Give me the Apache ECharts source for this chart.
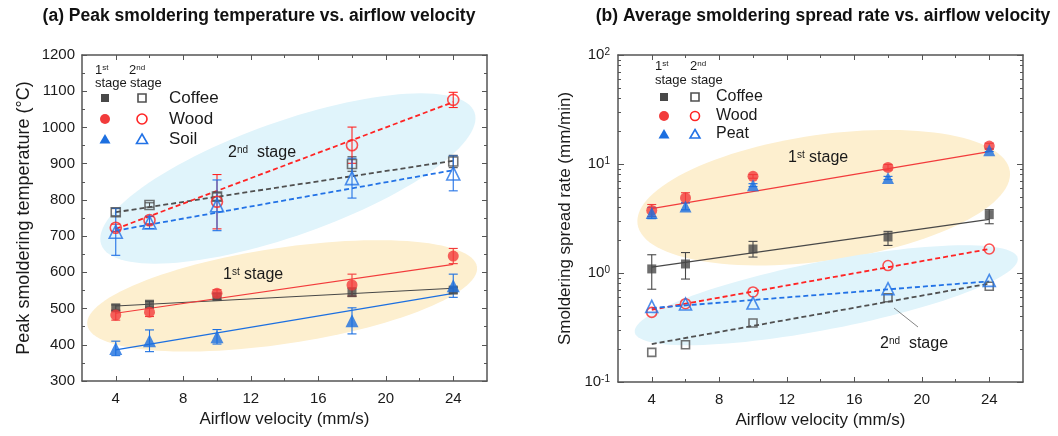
<!DOCTYPE html>
<html>
<head>
<meta charset="utf-8">
<script src="https://cdn.jsdelivr.net/npm/echarts@6/dist/echarts.min.js"></script>
<style>html,body{margin:0;padding:0;background:#fff;}#c{width:1058px;height:436px;}</style>
</head>
<body>
<div id="c"></div>
<script>
// ---------- data ----------
const airflow = [4, 6, 10, 18, 24];
const fitX = [4, 24];
const xMajorTicks = [4, 8, 12, 16, 20, 24];
const xMinorTicks = [6, 10, 14, 18, 22];
const logMinorTicks = [0.2,0.3,0.4,0.5,0.6,0.7,0.8,0.9,2,3,4,5,6,7,8,9,20,30,40,50,60,70,80,90];

// (a) peak temperature (°C)
const coffee1T = [502, 512, 533, 545, 551];
const coffee1TErr = [8, 8, 8, 12, 8];
const wood1T = [482, 490, 542, 565, 645];
const wood1TErr = [14, 12, 10, 30, 21];
const soil1T = [390, 411, 422, 466, 563];
const soil1TErr = [20, 30, 20, 36, 32];
const coffee2T = [766, 786, 809, 899, 906];
const coffee2TErr = [10, 6, 10, 20, 17];
const wood2T = [723, 744, 795, 951, 1076];
const wood2TErr = [10, 10, 75, 50, 21];
const soil2T = [712, 738, 785, 860, 873];
const soil2TErr = [65, 17, 70, 55, 48];
const coffee1TFit = [507, 556];
const wood1TFit = [487, 622];
const soil1TFit = [386, 542];
const coffee2TFit = [766, 908];
const wood2TFit = [720, 1070];
const soil2TFit = [715, 882];

// (b) spread rate (mm/min)
const coffee1R = [1.09, 1.21, 1.66, 2.14, 3.43];
const coffee1RLo = [0.71, 0.88, 1.40, 1.79, 2.83];
const coffee1RHi = [1.47, 1.54, 1.95, 2.41, 3.81];
const wood1R = [3.75, 4.88, 7.7, 9.3, 14.6];
const wood1RLo = [3.3, 4.4, 7.4, 8.8, 13.6];
const wood1RHi = [4.25, 5.45, 8.0, 9.9, 15.5];
const peat1R = [3.55, 4.08, 6.37, 7.44, 13.4];
const peat1RLo = [3.15, 3.8, 6.2, 7.2, 13.0];
const peat1RHi = [4.0, 4.4, 6.6, 7.7, 13.9];
const coffee2R = [0.187, 0.22, 0.348, 0.593, 0.755];
const wood2R = [0.435, 0.523, 0.67, 1.17, 1.66];
const peat2R = [0.494, 0.52, 0.53, 0.718, 0.855];
const coffee1RFit = [1.13, 3.1];
const wood1RFit = [3.9, 13.0];
const coffee2RFit = [0.223, 0.8];
const wood2RFit = [0.46, 1.66];
const peat2RFit = [0.477, 0.838];

// highlight ellipses (centre in data units)
const ellipseCentersA = [[14.2, 859], [13.86, 535]];
const ellipseCentersB = [[14.19, 4.91], [14.34, 0.625]];

// ---------- styling ----------
const FONT = 'Liberation Sans, Arial, sans-serif';
const GRAY = '#484848', RED = '#f23b3b', BLUE = '#1c6fe0';
const RED2 = '#ff2424', BLUE2 = '#2272e6', GRAY2 = '#505050';
const AX = '#555';
const ellipseStyle = [
  {a: 198, b: 57, angle: 19.5, color: '#e0f4fb'},
  {a: 197, b: 48, angle: 8.5, color: '#fdefcf'},
  {a: 188, b: 63, angle: 8.1, color: '#fdefcf'},
  {a: 195, b: 34, angle: 11, color: '#e0f4fb'}
];

const pairs = (xs, ys) => xs.map((x, i) => [x, ys[i]]);

function ellipseSeries(grid, center, st) {
  return {
    type: 'custom', xAxisIndex: grid * 4, yAxisIndex: grid * 4, z: 1, silent: true,
    data: [center],
    renderItem: function (params, api) {
      const c = api.coord([api.value(0), api.value(1)]);
      const th = st.angle * Math.PI / 180;
      const pts = [];
      for (let k = 0; k < 120; k++) {
        const t = k / 120 * Math.PI * 2;
        pts.push([c[0] + st.a * Math.cos(t) * Math.cos(th) + st.b * Math.sin(t) * Math.sin(th),
                  c[1] - st.a * Math.cos(t) * Math.sin(th) + st.b * Math.sin(t) * Math.cos(th)]);
      }
      return {type: 'polygon', shape: {points: pts}, style: {fill: st.color}};
    }
  };
}

function errSeries(grid, data, color) {
  return {
    type: 'custom', xAxisIndex: grid * 4, yAxisIndex: grid * 4, z: 3, silent: true,
    data: data,
    renderItem: function (params, api) {
      const x = api.value(0);
      const p1 = api.coord([x, api.value(2)]);
      const p2 = api.coord([x, api.value(1)]);
      const w = 4.5;
      const st = {stroke: color, lineWidth: 1.1};
      return {type: 'group', children: [
        {type: 'line', shape: {x1: p1[0], y1: p1[1], x2: p2[0], y2: p2[1]}, style: st},
        {type: 'line', shape: {x1: p1[0] - w, y1: p1[1], x2: p1[0] + w, y2: p1[1]}, style: st},
        {type: 'line', shape: {x1: p2[0] - w, y1: p2[1], x2: p2[0] + w, y2: p2[1]}, style: st}
      ]};
    }
  };
}
const errPM = (ys, es) => airflow.map((x, i) => [x, ys[i] - es[i], ys[i] + es[i]]);
const errLH = (lo, hi) => airflow.map((x, i) => [x, lo[i], hi[i]]);

function scat(grid, ys, symbol, size, color, filled) {
  return {
    type: 'scatter', xAxisIndex: grid * 4, yAxisIndex: grid * 4, z: 4, silent: true,
    symbol: symbol, symbolSize: size, data: pairs(airflow, ys),
    itemStyle: filled ? {color: color} : {color: 'rgba(255,255,255,0)', borderColor: color, borderWidth: 1.6}
  };
}
function fit(grid, ys, color, dashed) {
  return {
    type: 'line', xAxisIndex: grid * 4, yAxisIndex: grid * 4, z: 2, silent: true,
    symbol: 'none', data: pairs(fitX, ys),
    lineStyle: dashed ? {color: color, width: 1.8, type: [5, 3]} : {color: color, width: 1.2}
  };
}

function xAxes(grid) {
  const base = {type: 'value', gridIndex: grid, min: 2, max: 26, interval: 2, splitLine: {show: false}};
  return [
    Object.assign({}, base, {
      position: 'bottom',
      axisLine: {show: true, lineStyle: {color: AX, width: 1.5}},
      axisTick: {show: true, inside: true, length: 5, customValues: xMajorTicks, lineStyle: {color: AX}},
      axisLabel: {customValues: xMajorTicks, fontSize: 15, color: '#1a1a1a', margin: 10, fontFamily: FONT},
      name: 'Airflow velocity (mm/s)', nameLocation: 'middle', nameGap: 28,
      nameTextStyle: {fontSize: 17, color: '#1a1a1a', fontFamily: FONT}
    }),
    Object.assign({}, base, {
      position: 'top',
      axisLine: {show: true, lineStyle: {color: AX, width: 1.5}},
      axisTick: {show: true, inside: true, length: 5, customValues: xMajorTicks, lineStyle: {color: AX}},
      axisLabel: {show: false}
    }),
    Object.assign({}, base, {
      position: 'bottom', axisLine: {show: false},
      axisTick: {show: true, inside: true, length: 3, customValues: xMinorTicks, lineStyle: {color: AX}},
      axisLabel: {show: false}
    }),
    Object.assign({}, base, {
      position: 'top', axisLine: {show: false},
      axisTick: {show: true, inside: true, length: 3, customValues: xMinorTicks, lineStyle: {color: AX}},
      axisLabel: {show: false}
    })
  ];
}

const yA = {type: 'value', gridIndex: 0, min: 300, max: 1200, interval: 100, splitLine: {show: false},
  axisLine: {show: true, lineStyle: {color: AX, width: 1.5}},
  axisTick: {show: true, inside: true, length: 5, lineStyle: {color: AX}},
  minorTick: {show: true, splitNumber: 2, length: 3, lineStyle: {color: AX}}};
const yB = {type: 'log', logBase: 10, gridIndex: 1, min: 0.1, max: 100, splitLine: {show: false},
  axisLine: {show: true, lineStyle: {color: AX, width: 1.5}},
  axisTick: {show: true, inside: true, length: 6, lineStyle: {color: AX}}};

const yAxes = [
  Object.assign({}, yA, {position: 'left',
    axisLabel: {fontSize: 15, color: '#1a1a1a', margin: 7, fontFamily: FONT, formatter: v => String(v)},
    name: 'Peak smoldering temperature (°C)', nameLocation: 'middle', nameGap: 49,
    nameTextStyle: {fontSize: 18, color: '#1a1a1a', fontFamily: FONT}}),
  Object.assign({}, yA, {position: 'right', axisLabel: {show: false}}),
  Object.assign({}, yA, {position: 'left', axisLine: {show: false}, axisTick: {show: false}, minorTick: {show: false}, axisLabel: {show: false}}),
  Object.assign({}, yA, {position: 'right', axisLine: {show: false}, axisTick: {show: false}, minorTick: {show: false}, axisLabel: {show: false}}),
  Object.assign({}, yB, {position: 'left',
    axisLabel: {fontSize: 15, color: '#1a1a1a', margin: 8, fontFamily: FONT,
      formatter: v => '10{s|' + Math.round(Math.log10(v)) + '}',
      rich: {s: {fontSize: 10, verticalAlign: 'top', lineHeight: 10, padding: [0, 0, 8, 0], fontFamily: FONT, color: '#1a1a1a'}}},
    name: 'Smoldering spread rate (mm/min)', nameLocation: 'middle', nameGap: 44,
    nameTextStyle: {fontSize: 17, color: '#1a1a1a', fontFamily: FONT}}),
  Object.assign({}, yB, {position: 'right', axisLabel: {show: false}}),
  Object.assign({}, yB, {position: 'left', axisLine: {show: false}, axisLabel: {show: false},
    axisTick: {show: true, inside: true, length: 3, customValues: logMinorTicks, lineStyle: {color: AX}}}),
  Object.assign({}, yB, {position: 'right', axisLine: {show: false}, axisLabel: {show: false},
    axisTick: {show: true, inside: true, length: 3, customValues: logMinorTicks, lineStyle: {color: AX}}})
];

// ---------- series ----------
const series = [];
ellipseCentersA.forEach((c, i) => series.push(ellipseSeries(0, c, ellipseStyle[i])));
ellipseCentersB.forEach((c, i) => series.push(ellipseSeries(1, c, ellipseStyle[2 + i])));

// panel a
series.push(fit(0, coffee1TFit, GRAY, false), fit(0, wood1TFit, RED, false), fit(0, soil1TFit, BLUE, false));
series.push(fit(0, coffee2TFit, GRAY2, true), fit(0, wood2TFit, RED2, true), fit(0, soil2TFit, BLUE2, true));
series.push(errSeries(0, errPM(coffee1T, coffee1TErr), GRAY), errSeries(0, errPM(wood1T, wood1TErr), RED),
  errSeries(0, errPM(soil1T, soil1TErr), BLUE), errSeries(0, errPM(coffee2T, coffee2TErr), GRAY2),
  errSeries(0, errPM(wood2T, wood2TErr), RED2), errSeries(0, errPM(soil2T, soil2TErr), BLUE2));
series.push(scat(0, coffee1T, 'rect', 9, GRAY, true), scat(0, wood1T, 'circle', 11, RED, true),
  scat(0, soil1T, 'triangle', 13, BLUE, true), scat(0, coffee2T, 'rect', 9, GRAY2, false),
  scat(0, wood2T, 'circle', 11, RED2, false), scat(0, soil2T, 'triangle', 13, BLUE2, false));

// panel b
series.push(fit(1, coffee1RFit, GRAY, false), fit(1, wood1RFit, RED, false));
series.push(fit(1, coffee2RFit, GRAY2, true), fit(1, wood2RFit, RED2, true), fit(1, peat2RFit, BLUE2, true));
series.push(errSeries(1, errLH(coffee1RLo, coffee1RHi), GRAY), errSeries(1, errLH(wood1RLo, wood1RHi), RED),
  errSeries(1, errLH(peat1RLo, peat1RHi), BLUE));
series.push(scat(1, coffee1R, 'rect', 9, GRAY, true), scat(1, wood1R, 'circle', 11, RED, true),
  scat(1, peat1R, 'triangle', 12, BLUE, true), scat(1, coffee2R, 'rect', 8, GRAY2, false),
  scat(1, wood2R, 'circle', 10, RED2, false), scat(1, peat2R, 'triangle', 12, BLUE2, false));

// ---------- graphic text / legend ----------
const supRich = size => ({s: {fontSize: size, verticalAlign: 'top', lineHeight: size, fontFamily: FONT, fill: '#1a1a1a'}});
function txt(x, y, text, size, extra) {
  return Object.assign({type: 'text', x: x, y: y, z: 20, silent: true,
    style: Object.assign({text: text, fontSize: size, fontFamily: FONT, fill: '#1a1a1a',
      verticalAlign: 'middle', align: 'left', rich: supRich(Math.round(size * 0.6))}, extra || {})});
}
function mark(kind, cx, cy, color, filled, s) {
  const style = filled ? {fill: color} : {fill: 'rgba(255,255,255,0)', stroke: color, lineWidth: 1.6};
  if (kind === 'rect') return {type: 'rect', z: 20, shape: {x: cx - s / 2, y: cy - s / 2, width: s, height: s}, style};
  if (kind === 'circle') return {type: 'circle', z: 20, shape: {cx: cx, cy: cy, r: s / 2}, style};
  return {type: 'polygon', z: 20, shape: {points: [[cx, cy - s * 0.5], [cx + s * 0.55, cy + s * 0.45], [cx - s * 0.55, cy + s * 0.45]]}, style};
}

const legendA = ['Coffee', 'Wood', 'Soil'];
const legendB = ['Coffee', 'Wood', 'Peat'];
const legendKinds = ['rect', 'circle', 'triangle'];
const legendColors = [[GRAY, GRAY2], [RED, RED2], [BLUE, BLUE2]];

const graphic = [
  txt(259, 16, '(a) Peak smoldering temperature vs. airflow velocity', 17.5, {align: 'center', fontWeight: 'bold', fill: '#111'}),
  txt(823, 16, '(b) Average smoldering spread rate vs. airflow velocity', 17.5, {align: 'center', fontWeight: 'bold', fill: '#111'}),
  // panel a legend
  txt(95, 70, '1{s|st}', 13), txt(129, 70, '2{s|nd}', 13),
  txt(95, 83, 'stage', 13), txt(130, 83, 'stage', 13),
  // panel b legend
  txt(655, 66, '1{s|st}', 13), txt(690, 66, '2{s|nd}', 13),
  txt(655, 80, 'stage', 13), txt(691, 80, 'stage', 13),
  // annotations
  txt(228, 153, '2{s|nd}  stage', 16), txt(223, 275, '1{s|st} stage', 16),
  txt(788, 158, '1{s|st} stage', 16), txt(880, 344, '2{s|nd}  stage', 16),
  {type: 'line', z: 20, silent: true, shape: {x1: 894, y1: 308, x2: 918, y2: 327}, style: {stroke: '#666', lineWidth: 0.8}}
];
const rowsA = [98, 119, 139], rowsB = [97, 116, 134];
legendA.forEach((name, i) => {
  graphic.push(mark(legendKinds[i], 105, rowsA[i], legendColors[i][0], true, i === 0 ? 8 : 10));
  graphic.push(mark(legendKinds[i], 142, rowsA[i], legendColors[i][1], false, i === 0 ? 8 : 10));
  graphic.push(txt(169, rowsA[i], name, 17));
});
legendB.forEach((name, i) => {
  graphic.push(mark(legendKinds[i], 664, rowsB[i], legendColors[i][0], true, i === 0 ? 8 : 10));
  graphic.push(mark(legendKinds[i], 695, rowsB[i], legendColors[i][1], false, i === 0 ? 8 : 9));
  graphic.push(txt(716, rowsB[i], name, 16));
});

const chart = echarts.init(document.getElementById('c'), null, {renderer: 'canvas'});
chart.setOption({
  animation: false,
  backgroundColor: '#fff',
  textStyle: {fontFamily: FONT},
  grid: [
    {left: 82, right: 571, top: 55, bottom: 55},
    {left: 618, right: 35, top: 55, bottom: 54}
  ],
  xAxis: xAxes(0).concat(xAxes(1)),
  yAxis: yAxes,
  series: series,
  graphic: graphic
});
</script>
</body>
</html>
